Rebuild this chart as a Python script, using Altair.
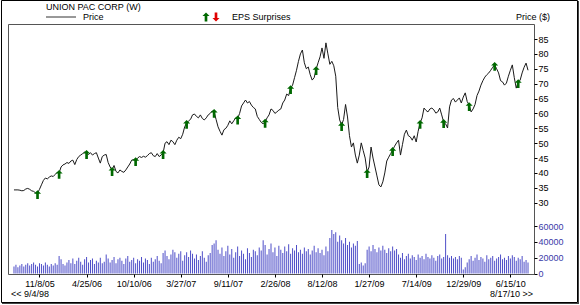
import altair as alt
import pandas as pd

# ---------------- data ----------------
start_date = "2005-08-09"          # first weekly bar / point
prices = [
    34.3, 34.3, 34.3, 34.2, 34.0, 34.1, 34.6, 34.8, 34.5, 34.0,
    33.8, 33.3, 33.2, 34.5, 36.0, 37.5, 38.3, 38.0, 38.6, 39.0,
    38.8, 39.5, 40.2, 40.0, 42.0, 42.7, 43.0, 43.5, 43.2, 44.0,
    44.3, 42.8, 44.5, 45.5, 46.0, 46.5, 47.0, 46.7, 46.2, 46.8,
    46.0, 46.5, 46.8, 45.0, 43.3, 45.5, 46.0, 46.2, 43.5, 42.0,
    41.0, 42.5, 40.5, 40.0, 41.0, 40.5, 40.2, 41.0, 42.0, 43.0,
    44.3, 44.5, 44.3, 45.0, 45.5, 45.2, 45.6, 45.3, 45.8, 46.5,
    46.8, 45.8, 45.5, 46.5, 45.5, 46.0, 46.7, 50.0, 50.5, 49.5,
    51.0, 50.5, 49.5, 51.0, 52.0, 51.5, 53.0, 55.5, 56.8, 57.5,
    58.0, 59.5, 59.8, 59.0, 58.5, 59.5, 58.3, 57.8, 58.5, 59.5,
    60.0, 60.8, 60.5, 58.0, 55.5, 54.0, 52.7, 54.5, 55.0, 56.0,
    57.5, 56.5, 57.5, 58.5, 58.3, 60.0, 62.5, 63.5, 64.5, 63.5,
    64.0, 62.8, 62.0, 61.5, 59.0, 58.0, 57.0, 56.5, 57.2, 58.5,
    59.5, 61.5, 61.0, 60.0, 60.5, 61.1, 61.5, 63.5, 64.5, 66.5,
    66.0, 68.5, 69.5, 72.0, 74.5, 77.5, 80.0, 81.3, 77.0, 75.0,
    75.6, 73.0, 71.2, 72.0, 74.9, 77.0, 79.0, 82.0, 78.5, 83.7,
    80.0, 76.5, 77.5, 76.0, 72.5, 62.0, 57.8, 56.1, 58.0, 63.0,
    58.8, 52.5, 48.7, 50.1, 46.0, 43.3, 46.0, 50.1, 47.5, 45.0,
    40.3, 42.0, 48.7, 45.0, 42.0, 39.0, 36.0, 35.3, 37.0, 40.0,
    44.0, 45.3, 46.5, 47.7, 49.0, 50.1, 51.0, 46.0, 49.5, 53.0,
    54.4, 52.5, 52.1, 51.0, 52.5, 50.4, 54.0, 56.8, 58.5, 61.8,
    61.0, 60.5, 61.5, 61.8, 61.2, 60.1, 60.5, 61.8, 59.5, 57.1,
    56.5, 55.1, 62.2, 64.5, 65.0, 63.8, 64.5, 65.2, 63.5, 65.5,
    66.9, 64.0, 62.8, 60.5, 61.5, 63.0, 66.0, 67.5, 69.5, 71.0,
    72.2, 73.0, 73.6, 74.5, 75.5, 76.3, 75.0, 73.6, 71.0, 70.6,
    69.5, 70.2, 72.5, 74.5, 76.3, 72.0, 68.5, 70.5, 71.2, 73.6,
    75.5, 76.9, 74.5,
]
volumes_k = [
    9, 11, 8, 10, 12, 9, 11, 13, 10, 12, 14, 11, 9, 13, 12, 10, 14, 11, 9, 12, 10, 13, 11,
    22, 18, 12,
    10, 14, 17, 13, 19, 12, 16, 20, 15, 11, 18, 21, 14, 17, 19, 12, 16, 14, 20, 13,
    15, 24, 19, 14, 17, 21, 13, 18, 20, 16, 12, 19, 22, 15, 17, 20, 13, 18, 16, 21,
    14, 19, 17, 12, 20, 15, 18, 22, 16, 13,
    26, 29, 22, 18, 24, 30, 27, 20, 25, 28, 16, 23, 27, 21, 29, 25, 19, 24, 17, 22,
    28, 20, 15, 23, 26,
    36, 38, 42, 30, 25, 33, 22, 28, 35,
    24, 31, 20, 27, 34, 22, 29, 25, 18, 32, 26, 21, 30, 28, 23, 33,
    29, 42, 36, 24, 31, 38, 27, 33, 22, 35, 30, 26, 34, 28, 37, 25, 32, 29, 36, 27,
    30, 25, 33, 28, 31, 24, 29, 35, 27, 32, 26, 30, 23, 34, 28,
    45, 55, 50, 52, 40, 48,
    42, 38, 45, 36, 40, 33, 38, 35, 41,
    12, 14, 10, 13,
    30, 34, 28, 36, 31, 27, 33, 29, 35, 30, 26, 32, 28, 34, 29, 31,
    24, 20, 26, 18, 22, 25, 19, 23, 21, 17, 24, 20, 22, 18, 25, 21, 19, 23, 20, 16,
    22, 24, 19, 21,
    50,
    23, 20, 22, 19, 21, 18, 22, 20,
    5, 8,
    14, 18, 22, 16, 20, 24, 17, 21, 19, 15, 23, 18, 20, 22, 16, 19, 21, 24, 18, 20,
    17, 22, 19, 23, 21, 16, 20, 18, 22, 15, 17, 14,
]
eps_up_weeks = [12, 23, 37, 50, 62, 76, 88, 102, 114, 128, 141, 154, 167, 180,
                193, 207, 219, 232, 245, 257]
price_ticks = [30, 35, 40, 45, 50, 55, 60, 65, 70, 75, 80, 85]
volume_ticks = [0, 20000, 40000, 60000]
x_tick_dates = [(2005, 11, 8), (2006, 4, 25), (2006, 10, 10), (2007, 3, 27),
                (2007, 9, 11), (2008, 2, 26), (2008, 8, 12), (2009, 1, 27),
                (2009, 7, 14), (2009, 12, 29), (2010, 6, 15)]
title_text = "UNION PAC CORP (W)"
first_label = "<< 9/4/98"
last_label = "8/17/10 >>"

# ---------------- tables ----------------
dates = pd.date_range(start_date, periods=len(prices), freq="7D")
df = pd.DataFrame({
    "date": [d.strftime("%Y-%m-%dT00:00:00") for d in dates],
    "price": prices,
    "volume": [v * 1000 for v in volumes_k],
})
eps_df = df.iloc[eps_up_weeks].reset_index(drop=True)

W, H = 526, 250
FONT = "Liberation Sans"
UP = "M0,-1L0.8,-0.2L0.3,-0.2L0.3,1L-0.3,1L-0.3,-0.2L-0.8,-0.2Z"
DOWN = "M0,1L0.8,0.2L0.3,0.2L0.3,-1L-0.3,-1L-0.3,0.2L-0.8,0.2Z"
GREEN = "#006800"
ARROW_SIZE = 78

xdom = [alt.DateTime(year=2005, month=8, date=5, hours=12),
        alt.DateTime(year=2010, month=8, date=20, hours=12)]
x_enc = alt.X(
    "date:T",
    scale=alt.Scale(domain=xdom),
    axis=alt.Axis(
        values=[alt.DateTime(year=y, month=m, date=d) for (y, m, d) in x_tick_dates],
        format="%-m/%-d/%y", title=None, labelFontSize=9, tickSize=3,
        labelPadding=2, domain=False, grid=False, labelFont=FONT,
        labelColor="#000", tickColor="#000", labelOverlap=False,
    ),
)
price_scale = alt.Scale(domain=[30, 85], range=[178.7, 15], zero=False, nice=False)

bars = alt.Chart(df).mark_bar(size=1, color="#4e4ec8").encode(
    x=x_enc,
    y=alt.Y("volume:Q",
            scale=alt.Scale(domain=[0, 60000], range=[249.5, 202], nice=False),
            axis=alt.Axis(orient="right", values=volume_ticks, format="d", title=None,
                          labelColor="#3a3aa8", labelFontSize=9, labelFont=FONT,
                          tickSize=3, labelPadding=1, domain=False, grid=False,
                          tickColor="#000")),
)

line = alt.Chart(df).mark_line(color="#1a1a1a", strokeWidth=1).encode(
    x=x_enc,
    y=alt.Y("price:Q", scale=price_scale,
            axis=alt.Axis(orient="right", values=price_ticks, title=None,
                          labelColor="#000", labelFontSize=9, labelFont=FONT,
                          tickSize=3, labelPadding=1, domain=False, grid=False,
                          tickColor="#000")),
)

arrows = alt.Chart(eps_df).mark_point(
    shape=UP, filled=True, color=GREEN, size=ARROW_SIZE, opacity=1
).encode(
    x=x_enc,
    y=alt.Y("price:Q", scale=price_scale, axis=None),
    yOffset=alt.value(1.5),
)


def label(text, x, y, align="left", color="#000", size=9):
    return alt.Chart(pd.DataFrame({"t": [text]})).mark_text(
        align=align, baseline="middle", font=FONT, fontSize=size, color=color
    ).encode(text="t:N", x=alt.value(x), y=alt.value(y))


one = pd.DataFrame({"a": [0]})
legend_line = alt.Chart(one).mark_rule(color="#333", strokeWidth=1).encode(
    x=alt.value(38), x2=alt.value(68), y=alt.value(-7))
leg_up = alt.Chart(one).mark_point(shape=UP, filled=True, color=GREEN, size=ARROW_SIZE,
                                   opacity=1).encode(x=alt.value(198), y=alt.value(-7))
leg_down = alt.Chart(one).mark_point(shape=DOWN, filled=True, color="#e00000",
                                     size=ARROW_SIZE, opacity=1).encode(
    x=alt.value(208), y=alt.value(-7))
outer = alt.Chart(one).mark_rect(fillOpacity=0, stroke="#000", strokeWidth=1).encode(
    x=alt.value(-6.5), x2=alt.value(569.5), y=alt.value(-23.5), y2=alt.value(278.5))
shadow_r = alt.Chart(one).mark_rule(color="#444", strokeWidth=1).encode(
    x=alt.value(570.5), y=alt.value(-23), y2=alt.value(280))
shadow_b = alt.Chart(one).mark_rule(color="#444", strokeWidth=1).encode(
    x=alt.value(-6), x2=alt.value(571), y=alt.value(279.5))

chart = alt.layer(
    bars, line, arrows,
    label(title_text, 38, -17),
    legend_line,
    label("Price", 75, -7),
    leg_up, leg_down,
    label("EPS Surprises", 224, -7),
    label("Price ($)", 508, -7),
    label(first_label, 3, 270),
    label(last_label, 525, 270, align="right"),
    outer, shadow_r, shadow_b,
).resolve_scale(y="independent").properties(
    width=W, height=H, autosize="none",
    padding={"left": 8, "top": 24, "right": 46, "bottom": 31},
    background="#ffffff",
).configure_view(stroke="#555", strokeWidth=1)

chart.save("out.html", embed_options={"renderer": "svg", "actions": False})
